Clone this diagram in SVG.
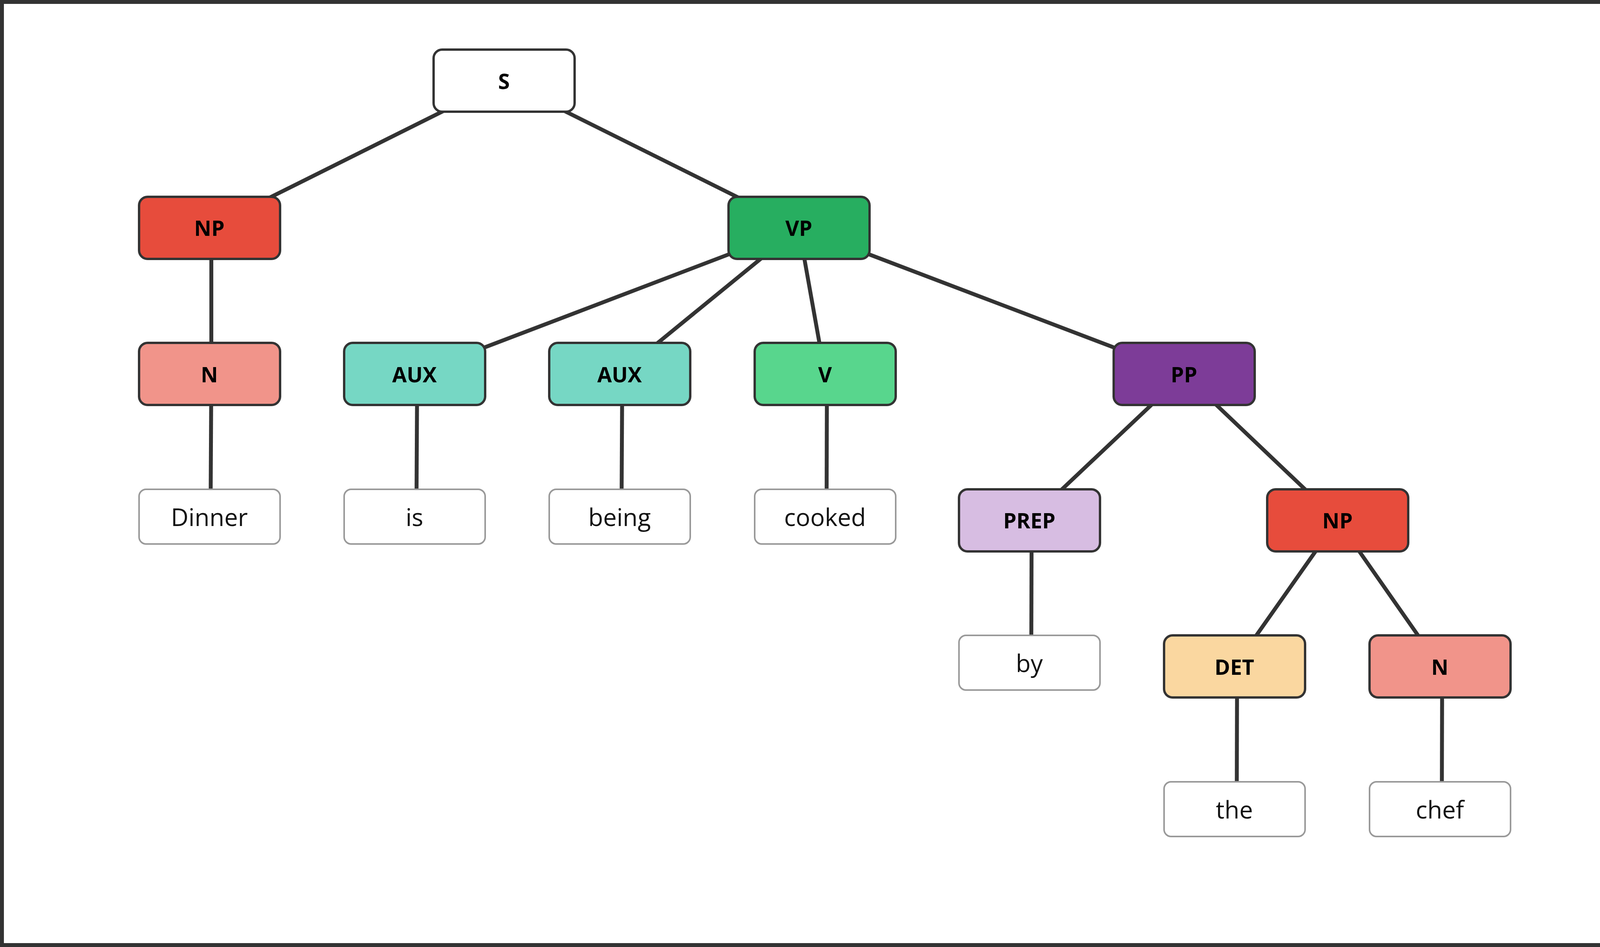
<svg xmlns="http://www.w3.org/2000/svg" width="4225" height="2425" viewBox="0 0 4225 2425">
<style>
.n rect{stroke:#333;stroke-width:6}
.n text{font-family:"Open Sans","Noto Sans",sans-serif;font-weight:bold;font-size:54px;fill:#000;text-anchor:middle;dominant-baseline:central}
.w rect{fill:#fff;stroke:#999;stroke-width:4}
.w text{font-family:"Open Sans","Noto Sans",sans-serif;font-size:62px;fill:#111;text-anchor:middle;dominant-baseline:central}
#edges line{stroke:#333;stroke-width:10}
</style>
<rect x="5" y="5" width="4215" height="2415" fill="#fff" stroke="#333" stroke-width="10"/>
<g id="edges">
<line x1="1290" y1="207" x2="536" y2="583"/>
<line x1="1290" y1="207" x2="2045" y2="583"/>
<line x1="541" y1="583" x2="541" y2="958"/>
<line x1="541" y1="958" x2="539" y2="1323"/>
<line x1="2045" y1="583" x2="1061" y2="958"/>
<line x1="2045" y1="583" x2="1586" y2="958"/>
<line x1="2045" y1="583" x2="2112" y2="958"/>
<line x1="2045" y1="583" x2="3031" y2="958"/>
<line x1="1068" y1="958" x2="1066" y2="1323"/>
<line x1="1593" y1="958" x2="1591" y2="1323"/>
<line x1="2117" y1="958" x2="2116" y2="1323"/>
<line x1="3031" y1="958" x2="2635" y2="1332"/>
<line x1="3031" y1="958" x2="3424" y2="1332"/>
<line x1="2641" y1="1332" x2="2640" y2="1697"/>
<line x1="3424" y1="1332" x2="3160" y2="1707"/>
<line x1="3424" y1="1332" x2="3686" y2="1707"/>
<line x1="3167" y1="1707" x2="3166" y2="2072"/>
<line x1="3692" y1="1707" x2="3691" y2="2072"/>
</g>
<g id="S" class="n"><rect x="1110" y="127" width="361" height="159" rx="22" fill="#fff"/><text x="1290" y="207">S</text></g>
<g id="NP1" class="n"><rect x="356" y="504" width="361" height="159" rx="22" fill="#E74C3C"/><text x="536" y="583">NP</text></g>
<g id="VP" class="n"><rect x="1865" y="504" width="361" height="159" rx="22" fill="#27AE60"/><text x="2045" y="583">VP</text></g>
<g id="N1" class="n"><rect x="356" y="878" width="361" height="159" rx="22" fill="#F1948A"/><text x="536" y="958">N</text></g>
<g id="AUX1" class="n"><rect x="881" y="878" width="361" height="159" rx="22" fill="#76D7C4"/><text x="1061" y="958">AUX</text></g>
<g id="AUX2" class="n"><rect x="1406" y="878" width="361" height="159" rx="22" fill="#76D7C4"/><text x="1586" y="958">AUX</text></g>
<g id="V" class="n"><rect x="1932" y="878" width="361" height="159" rx="22" fill="#58D68D"/><text x="2112" y="958">V</text></g>
<g id="PP" class="n"><rect x="2851" y="878" width="361" height="159" rx="22" fill="#7D3C98"/><text x="3031" y="958">PP</text></g>
<g id="wDinner" class="w"><rect x="356" y="1253" width="361" height="140" rx="18"/><text x="536" y="1323">Dinner</text></g>
<g id="wis" class="w"><rect x="881" y="1253" width="361" height="140" rx="18"/><text x="1061" y="1323">is</text></g>
<g id="wbeing" class="w"><rect x="1406" y="1253" width="361" height="140" rx="18"/><text x="1586" y="1323">being</text></g>
<g id="wcooked" class="w"><rect x="1932" y="1253" width="361" height="140" rx="18"/><text x="2112" y="1323">cooked</text></g>
<g id="PREP" class="n"><rect x="2455" y="1253" width="361" height="159" rx="22" fill="#D7BDE2"/><text x="2635" y="1332">PREP</text></g>
<g id="NP2" class="n"><rect x="3244" y="1253" width="361" height="159" rx="22" fill="#E74C3C"/><text x="3424" y="1332">NP</text></g>
<g id="wby" class="w"><rect x="2455" y="1627" width="361" height="140" rx="18"/><text x="2635" y="1697">by</text></g>
<g id="DET" class="n"><rect x="2980" y="1627" width="361" height="159" rx="22" fill="#FAD7A0"/><text x="3160" y="1707">DET</text></g>
<g id="N2" class="n"><rect x="3506" y="1627" width="361" height="159" rx="22" fill="#F1948A"/><text x="3686" y="1707">N</text></g>
<g id="wthe" class="w"><rect x="2980" y="2002" width="361" height="140" rx="18"/><text x="3160" y="2072">the</text></g>
<g id="wchef" class="w"><rect x="3506" y="2002" width="361" height="140" rx="18"/><text x="3686" y="2072">chef</text></g>
</svg>
